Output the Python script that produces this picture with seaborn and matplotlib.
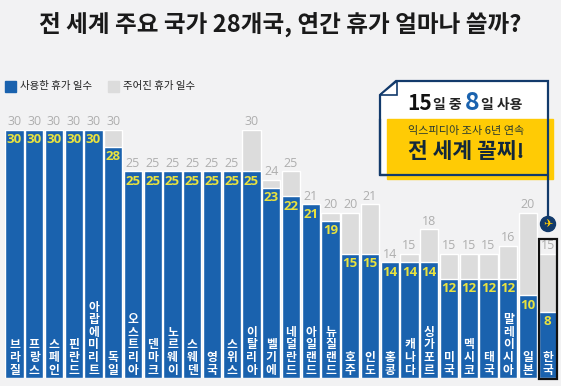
import matplotlib
matplotlib.use("Agg")
import matplotlib.pyplot as plt
from matplotlib.patches import Rectangle, Polygon, Circle
import seaborn as sns
import pandas as pd

countries = ["브라질","프랑스","스페인","핀란드","아랍에미리트","독일","오스트리아","덴마크","노르웨이","스웨덴","영국","스위스","이탈리아","벨기에","네덜란드","아일랜드","뉴질랜드","호주","인도","홍콩","캐나다","싱가포르","미국","멕시코","태국","말레이시아","일본","한국"]
given = [30,30,30,30,30,30,25,25,25,25,25,25,30,24,25,21,20,20,21,14,15,18,15,15,15,16,20,15]
used = [30,30,30,30,30,28,25,25,25,25,25,25,25,23,22,21,19,15,15,14,14,14,12,12,12,12,10,8]

BG = "#f2f2f3"; BLUE = "#1a62ae"; GRAY = "#dcdcdc"; NAVY = "#123a6b"; YEL = "#ffcb05"; LBL = "#e9e23f"

sns.set_theme(style="white")
plt.rcParams["font.family"] = ["Noto Sans CJK KR", "DejaVu Sans"]
W, H = 561, 386
fig = plt.figure(figsize=(W/100, H/100), dpi=100, facecolor=BG)
ax = fig.add_axes([4.6/W, (H-378)/H, 553/W, 248/H])
ax.patch.set_alpha(0)
df = pd.DataFrame({"country": countries, "given": given, "used": used})
sns.barplot(data=df, x="country", y="given", color=GRAY, saturation=1, width=0.93, ax=ax)
sns.barplot(data=df, x="country", y="used", color=BLUE, saturation=1, width=0.93, ax=ax)
ax.set_xlim(-0.5, 27.5); ax.set_ylim(0, 30)
ax.axis("off")

for i, (c, g, u) in enumerate(zip(countries, given, used)):
    ax.annotate(str(g), (i, g), xytext=(0, 1.2), textcoords="offset points", ha="center", va="bottom",
                fontsize=9, color="#aeaeae", family="Open Sans", annotation_clip=False)
    ax.annotate(str(u), (i, u), xytext=(0, -2.5), textcoords="offset points", ha="center", va="top",
                fontsize=9.5, color=LBL, fontweight="bold", family="Open Sans", annotation_clip=False)
    ax.annotate("\n".join(c), (i, 0), xytext=(0, 1), textcoords="offset points", ha="center", va="bottom",
                fontsize=8.5, color="white", fontweight="bold", linespacing=0.96, annotation_clip=False)

# overlay in pixel coordinates for the infographic furniture
ov = fig.add_axes([0, 0, 1, 1]); ov.set_xlim(0, W); ov.set_ylim(H, 0); ov.axis("off"); ov.patch.set_alpha(0)
ov.text(280.5, 25, "전 세계 주요 국가 28개국, 연간 휴가 얼마나 쓸까?", ha="center", va="center", fontsize=17, fontweight="bold", color="#1a1a1a")
ov.add_patch(Rectangle((5, 81), 11, 11, color=BLUE))
ov.text(20, 85.5, "사용한 휴가 일수", va="center", fontsize=7.5, fontweight="medium", color="#222222")
ov.add_patch(Rectangle((108, 81), 11, 11, color=GRAY))
ov.text(123, 85.5, "주어진 휴가 일수", va="center", fontsize=7.5, fontweight="medium", color="#222222")

# callout
ov.add_patch(Polygon([(396, 81), (548, 81), (548, 175), (380, 175), (380, 95)], closed=True, fc="white", ec=NAVY, lw=1.6))
ov.add_patch(Polygon([(380, 95), (397, 95), (397, 81)], closed=True, fc="white", ec=NAVY, lw=1.2))
ov.add_patch(Rectangle((387, 119), 166, 60, color=YEL))
ov.plot([548, 548, 380, 380], [119, 175, 175, 119], color=NAVY, lw=1.6)
ov.plot([548, 548], [175, 222], color=NAVY, lw=1.6)
ov.add_patch(Circle((548, 224), 7.5, color=NAVY))
ov.text(548, 224, "✈", ha="center", va="center", fontsize=8, color=YEL, family="DejaVu Sans")
ov.text(407, 104, "15", fontsize=15, fontweight="bold", color="#111111", va="center")
ov.text(433, 105, "일 중", fontsize=10, fontweight="bold", color="#222222", va="center")
ov.text(465, 103, "8", fontsize=18, fontweight="bold", color=BLUE, va="center")
ov.text(481, 105, "일 사용", fontsize=10, fontweight="bold", color="#222222", va="center")
ov.text(466, 131, "익스피디아 조사 6년 연속", ha="center", va="center", fontsize=8, fontweight="medium", color="#2a3a30")
ov.text(466, 151, "전 세계 꼴찌!", ha="center", va="center", fontsize=15.5, fontweight="black", color="#12283a")
# highlight frame around Korea
ov.add_patch(Rectangle((539, 239), 18, 139.5, fc="none", ec="#111111", lw=1.6))

fig.savefig("out.png", dpi=100, facecolor=BG)
